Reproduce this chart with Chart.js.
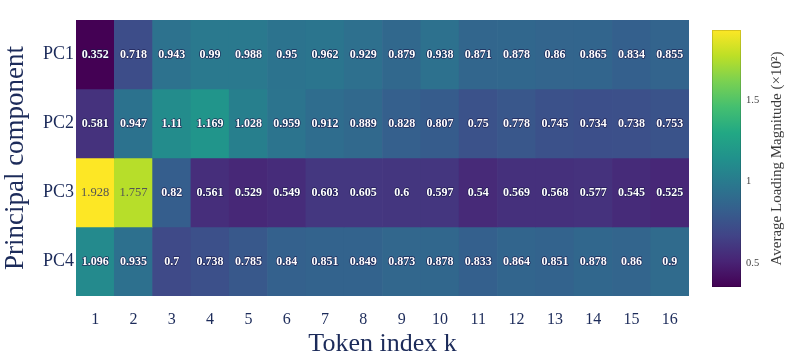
<!DOCTYPE html>
<html>
<head>
<meta charset="utf-8">
<script src="https://cdn.jsdelivr.net/npm/chart.js@4/dist/chart.umd.min.js"></script>
<style>
html,body{margin:0;padding:0;background:#fff;}
#wrap{width:800px;height:360px;position:relative;}
</style>
</head>
<body>
<div id="wrap"><canvas id="c" width="800" height="360"></canvas></div>
<script>
// ---- data ----
const tokens = ['1','2','3','4','5','6','7','8','9','10','11','12','13','14','15','16'];
const components = ['PC1','PC2','PC3','PC4'];
const pc1 = [0.352,0.718,0.943,0.99,0.988,0.95,0.962,0.929,0.879,0.938,0.871,0.878,0.86,0.865,0.834,0.855];
const pc2 = [0.581,0.947,1.11,1.169,1.028,0.959,0.912,0.889,0.828,0.807,0.75,0.778,0.745,0.734,0.738,0.753];
const pc3 = [1.928,1.757,0.82,0.561,0.529,0.549,0.603,0.605,0.6,0.597,0.54,0.569,0.568,0.577,0.545,0.525];
const pc4 = [1.096,0.935,0.7,0.738,0.785,0.84,0.851,0.849,0.873,0.878,0.833,0.864,0.851,0.878,0.86,0.9];
const colorbarTicks = [0.5, 1, 1.5];
const rows = [pc1, pc2, pc3, pc4];

// ---- colour scale (viridis) ----
const viridis = ['#440154','#482475','#414487','#355f8d','#2a788e','#21918c','#22a884','#44bf70','#7ad151','#bddf26','#fde725'];
function hexRgb(h){return [parseInt(h.substr(1,2),16),parseInt(h.substr(3,2),16),parseInt(h.substr(5,2),16)];}
function viridisAt(t){
  t = Math.max(0, Math.min(1, t));
  const p = t*(viridis.length-1), i = Math.min(Math.floor(p), viridis.length-2), f = p - i;
  const a = hexRgb(viridis[i]), b = hexRgb(viridis[i+1]);
  return 'rgb(' + a.map((v,k)=>Math.round(v+(b[k]-v)*f)).join(',') + ')';
}
const all = rows.flat();
const vmin = Math.min(...all), vmax = Math.max(...all);
const norm = v => (v - vmin) / (vmax - vmin);

const SERIF = '"Liberation Serif", "Times New Roman", serif';
const NAVY = '#1c2b5a';

const datasets = rows.map((vals, r) => ({
  label: components[r],
  data: vals.map(() => [r - 0.5, r + 0.5]),
  values: vals,
  backgroundColor: vals.map(v => viridisAt(norm(v))),
  borderWidth: 0,
  barPercentage: 1.0,
  categoryPercentage: 1.0,
  grouped: false
}));

const cellLabels = {
  id: 'cellLabels',
  afterDatasetsDraw(chart) {
    const ctx = chart.ctx;
    ctx.save();
    ctx.textAlign = 'center';
    ctx.textBaseline = 'middle';
    chart.data.datasets.forEach((ds, di) => {
      const meta = chart.getDatasetMeta(di);
      meta.data.forEach((el, i) => {
        const v = ds.values[i];
        const p = el.getProps(['x','y','base'], true);
        const cy = (p.y + p.base) / 2;
        const txt = String(v);
        if (norm(v) > 0.75) {
          ctx.font = '12.5px ' + SERIF;
          ctx.fillStyle = '#555555';
          ctx.fillText(txt, p.x, cy);
        } else {
          ctx.font = 'bold 12px ' + SERIF;
          ctx.lineWidth = 1.4;
          ctx.lineJoin = 'round';
          ctx.strokeStyle = 'rgba(25,25,75,0.8)';
          ctx.strokeText(txt, p.x, cy);
          ctx.fillStyle = '#ffffff';
          ctx.fillText(txt, p.x, cy);
        }
      });
    });
    ctx.restore();
  }
};

const colorbar = {
  id: 'colorbar',
  afterDraw(chart) {
    const ctx = chart.ctx;
    const x0 = 712, w = 29, top = 30, bot = 287;
    ctx.save();
    const g = ctx.createLinearGradient(0, bot, 0, top);
    viridis.forEach((c, i) => g.addColorStop(i/(viridis.length-1), c));
    ctx.fillStyle = g;
    ctx.fillRect(x0, top, w, bot - top);
    ctx.strokeStyle = 'rgba(0,0,0,0.15)';
    ctx.lineWidth = 1;
    ctx.strokeRect(x0 + 0.5, top + 0.5, w - 1, bot - top - 1);
    ctx.fillStyle = '#444444';
    ctx.font = '10.5px ' + SERIF;
    ctx.textAlign = 'left';
    ctx.textBaseline = 'middle';
    colorbarTicks.forEach(t => {
      const y = bot - (t - vmin) / (vmax - vmin) * (bot - top);
      ctx.fillText(String(t), x0 + w + 5, y);
    });
    ctx.translate(777, (top + bot) / 2);
    ctx.rotate(-Math.PI / 2);
    ctx.textAlign = 'center';
    ctx.fillStyle = '#3a3a3a';
    ctx.font = '15px ' + SERIF;
    ctx.fillText('Average Loading Magnitude (\u00d710\u00b2)', 0, 0);
    ctx.restore();
  }
};

new Chart(document.getElementById('c'), {
  type: 'bar',
  data: { labels: tokens, datasets },
  options: {
    responsive: false,
    animation: false,
    layout: { padding: { left: 0, right: 111, top: 20, bottom: 0 } },
    plugins: { legend: { display: false }, tooltip: { enabled: false } },
    scales: {
      x: {
        type: 'category',
        grid: { display: false, drawTicks: false },
        border: { display: false },
        ticks: { color: NAVY, font: { family: SERIF, size: 16 }, padding: 14, maxRotation: 0, autoSkip: false },
        title: { display: true, text: 'Token index k', color: NAVY, font: { family: SERIF, size: 26 }, padding: { top: 0, bottom: 0 } },
        afterFit(s) { s.height = 64; }
      },
      y: {
        type: 'linear',
        min: -0.5, max: 3.5,
        reverse: true,
        grid: { display: false, drawTicks: false },
        border: { display: false },
        afterBuildTicks(s) { s.ticks = components.map((_, i) => ({ value: i })); },
        ticks: { color: NAVY, font: { family: SERIF, size: 18 }, padding: 2,
                 callback: v => components[v] },
        title: { display: true, text: 'Principal component', color: NAVY, font: { family: SERIF, size: 27 }, padding: { top: 0, bottom: 4 } },
        afterFit(s) { s.width = 76; }
      }
    }
  },
  plugins: [cellLabels, colorbar]
});
</script>
</body>
</html>
